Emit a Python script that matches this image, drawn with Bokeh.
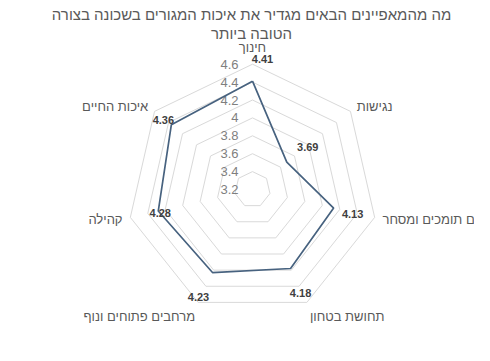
import numpy as np
from bokeh.plotting import figure
from bokeh.models import Range1d, ColumnDataSource
from bokeh.core.properties import value
from bokeh.embed import file_html
from bokeh.resources import INLINE

title_lines = ["מה מהמאפיינים הבאים מגדיר את איכות המגורים בשכונה בצורה", "הטובה ביותר"]
categories = ["חינוך", "נגישות", "שירותים תומכים ומסחר", "תחושת בטחון",
              "מרחבים פתוחים ונוף", "קהילה", "איכות החיים"]
values = [4.41, 3.69, 4.13, 4.18, 4.23, 4.28, 4.36]
ticks = [3.2, 3.4, 3.6, 3.8, 4.0, 4.2, 4.4, 4.6]
tick_labels = ["3.2", "3.4", "3.6", "3.8", "4", "4.2", "4.4", "4.6"]

# layout / style (screen pixels)
W, H = 474, 345
CX, CY = 252, 189          # centre of the radar in figure pixels
R_MIN, R_MAX = ticks[0], ticks[-1]
PX = 125.3 / (R_MAX - R_MIN)   # pixels per value unit
label_offsets = [(10, -22), (21, -15), (19, 6), (10, 24), (-14, 24), (2, 2), (-8, -5)]
title_pos = [(251, 14), (251, 33)]

HEB = "Liberation Sans"
GRAY = "#595959"

p = figure(width=W, height=H, output_backend="svg", toolbar_location=None,
           x_range=Range1d(-CX / PX, (W - CX) / PX),
           y_range=Range1d(-(H - CY) / PX, CY / PX),
           min_border=0)
p.axis.visible = False
p.grid.visible = False
p.outline_line_color = None

n = len(categories)
theta = np.pi / 2 - 2 * np.pi * np.arange(n) / n

# rings
for t in ticks[1:]:
    r = t - R_MIN
    xs = list(r * np.cos(theta)) + [r * np.cos(theta[0])]
    ys = list(r * np.sin(theta)) + [r * np.sin(theta[0])]
    p.line(xs, ys, line_color="#D9D9D9", line_width=1)

# tick labels
p.text(x=[-14 / PX] * len(ticks), y=[t - R_MIN for t in ticks], text=tick_labels,
       text_align="right", text_baseline="middle", text_font=value(HEB),
       text_font_size="13px", text_color="#7F7F7F")

# series
rv = np.array(values) - R_MIN
sx = rv * np.cos(theta)
sy = rv * np.sin(theta)
p.line(list(sx) + [sx[0]], list(sy) + [sy[0]], line_color="#47627F", line_width=1.7)

# data labels
lx = [sx[i] + label_offsets[i][0] / PX for i in range(n)]
ly = [sy[i] - label_offsets[i][1] / PX for i in range(n)]
p.text(x=lx, y=ly, text=[f"{v:.2f}" for v in values], text_align="center",
       text_baseline="middle", text_font=value(HEB), text_font_style="bold",
       text_font_size="11px", text_color="#404040")

# category labels
Ro = R_MAX - R_MIN
aligns, bases, pads = [], [], []
for i in range(n):
    c, s = np.cos(theta[i]), np.sin(theta[i])
    if abs(c) < 0.1:
        aligns.append("center"); bases.append("bottom"); pads.append(9)
    elif s < -0.8:
        aligns.append("left" if c > 0 else "right"); bases.append("top"); pads.append(7)
    else:
        aligns.append("left" if c > 0 else "right"); bases.append("middle"); pads.append(8)
cx_ = [(Ro + pads[i] / PX) * np.cos(theta[i]) for i in range(n)]
cy_ = [(Ro + pads[i] / PX) * np.sin(theta[i]) for i in range(n)]
src = ColumnDataSource(dict(x=cx_, y=cy_, text=categories, align=aligns, base=bases))
p.text(x="x", y="y", text="text", source=src, text_align="align", text_baseline="base",
       text_font=value(HEB), text_font_size="13px", text_color=GRAY)

# title
p.text(x=[(tx - CX) / PX for tx, ty in title_pos], y=[(CY - ty) / PX for tx, ty in title_pos],
       text=title_lines, text_align="center", text_baseline="middle",
       text_font=value(HEB), text_font_size="15px", text_color=GRAY)

open("out.html", "w").write(file_html(p, INLINE))
